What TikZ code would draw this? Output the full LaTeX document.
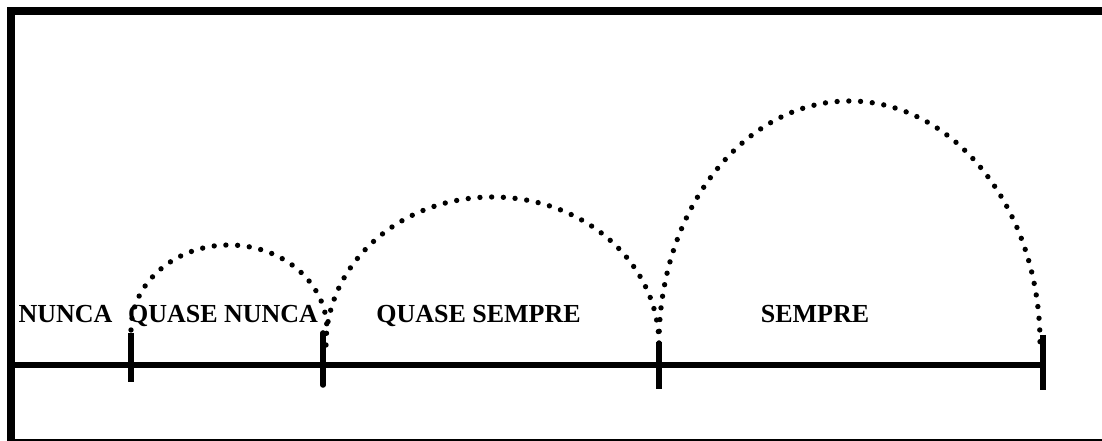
\documentclass[tikz,border=0pt]{standalone}
\usepackage{fontspec}
\setmainfont{Liberation Serif}
\usepackage{tikz}
\usetikzlibrary{positioning, calc}
\tikzset{
	framepart/.style={line width=6pt, line join=miter}
}
\tikzset{
	axisline/.style={line width=4.2pt},
	tickmark/.style={line width=4.2pt}
}
\tikzset{
	dotarc/.style={line width=4pt, line cap=round, dash pattern=on 0pt off 8.8pt}
}
\tikzset{
	scalelabel/.style={font=\fontsize{19.5}{22}\selectfont\bfseries, anchor=base, inner sep=0pt}
}

\begin{document}
\begin{tikzpicture}[x=0.75pt, y=0.75pt]

			\useasboundingbox (0,0) rectangle (1102,441);

			\begin{scope}
				\draw[framepart] (11,0) -- (11,430) -- (1102,430);
				\draw[line width=1.2pt] (11,1) -- (1102,1);
			\end{scope}

			\begin{scope}
				\coordinate (tA) at (131,76);
				\coordinate (tB) at (323,76);
				\coordinate (tC) at (659,76);
				\coordinate (tD) at (1043,76);
				\coordinate (axstart) at (15,76);

				\draw[axisline] (axstart) -- (tD);

				\draw[tickmark] (tA) ++(0,32) -- ++(0,-49);
				\draw[tickmark, line cap=round] (tB) ++(0,32) -- ++(0,-52);
				\draw[tickmark] (tC) ++(0,23) -- ++(0,-47);
				\draw[tickmark] (tD) ++(0,30) -- ++(0,-55);
			\end{scope}

			\begin{scope}
				\draw[dotarc] (131,111) arc[start angle=180, end angle=0, x radius=98, y radius=85];
				\draw[dotarc] (326,96) arc[start angle=180, end angle=0, x radius=166.5, y radius=148];
				\draw[dotarc] (659,98) arc[start angle=180, end angle=0, x radius=190.5, y radius=242];
			\end{scope}

			\node[scalelabel] (nunca) at (65.5,118) {NUNCA};
			\node[scalelabel] (qnunca) at (223,118) {QUASE NUNCA};
			\node[scalelabel] (qsempre) at (478.5,118) {QUASE SEMPRE};
			\node[scalelabel] (sempre) at (815,118) {SEMPRE};

		\end{tikzpicture}
\end{document}
